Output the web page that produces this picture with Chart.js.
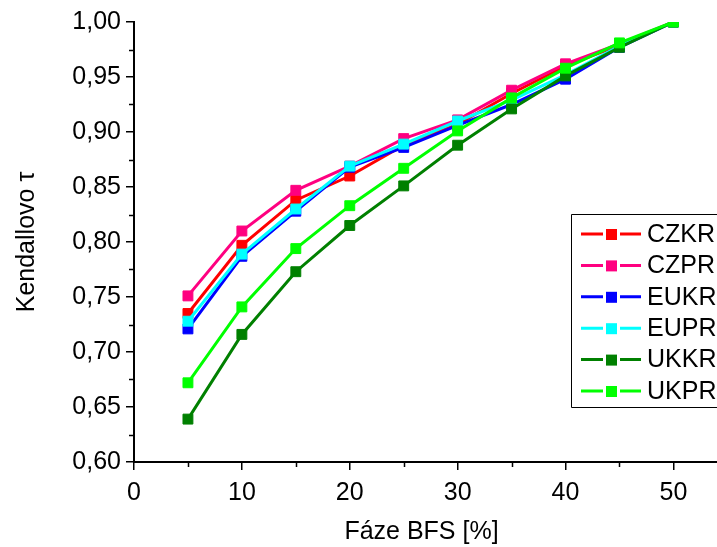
<html>
<head>
<meta charset="utf-8">
<script src="https://cdn.jsdelivr.net/npm/chart.js@4.4.1/dist/chart.umd.min.js"></script>
<style>
body { margin: 0; background: #fff; }
</style>
</head>
<body>
<canvas id="kendall" width="717" height="547"></canvas>

<script>
// faze BFS v procentech
var faze = [5, 10, 15, 20, 25, 30, 35, 40, 45, 50];

var czkr = [0.735, 0.797, 0.838, 0.860, 0.888, 0.907, 0.935, 0.960, 0.979, 1.000];
var czpr = [0.751, 0.810, 0.847, 0.869, 0.894, 0.911, 0.938, 0.962, 0.980, 1.000];
var eukr = [0.721, 0.787, 0.828, 0.868, 0.886, 0.906, 0.925, 0.948, 0.977, 1.000];
var eupr = [0.728, 0.789, 0.830, 0.869, 0.889, 0.910, 0.929, 0.952, 0.978, 1.000];
var ukkr = [0.639, 0.716, 0.773, 0.815, 0.851, 0.888, 0.921, 0.951, 0.977, 1.000];
var ukpr = [0.672, 0.741, 0.794, 0.833, 0.867, 0.901, 0.931, 0.958, 0.981, 1.000];

var names = ["CZKR", "CZPR", "EUKR", "EUPR", "UKKR", "UKPR"];
var series = [czkr, czpr, eukr, eupr, ukkr, ukpr];
var colors = ["#ff0000", "#ff0080", "#0000ff", "#00ffff", "#008000", "#00ff00"];

var xMinor = [5, 15, 25, 35, 45];
var yMinor = [0.625, 0.675, 0.725, 0.775, 0.825, 0.875, 0.925, 0.975];

var font = "'Liberation Sans', Arial, sans-serif";

function toPoints(vals) {
	return vals.map(function(v, i) { return {x: faze[i], y: v}; });
}

var datasets = series.map(function(vals, i) {
	return {
		label: names[i],
		data: toPoints(vals),
		borderColor: colors[i],
		backgroundColor: colors[i],
		borderWidth: 3,
		pointStyle: "rect",
		pointRadius: 7,
		pointBorderWidth: 1,
		pointHoverRadius: 7,
		tension: 0,
		order: names.length - i
	};
});

// vedlejsi znacky na osach + osa x az k okraji
var minorTicks = {
	id: "minorTicks",
	afterDraw: function(chart) {
		var ctx = chart.ctx;
		var xs = chart.scales.x, ys = chart.scales.y;
		var a = chart.chartArea;
		ctx.save();
		ctx.strokeStyle = "#000";
		ctx.lineWidth = 1.5;
		ctx.beginPath();
		xMinor.forEach(function(v) {
			var px = Math.round(xs.getPixelForValue(v)) + 0.5;
			ctx.moveTo(px, a.bottom);
			ctx.lineTo(px, a.bottom + 5);
		});
		yMinor.forEach(function(v) {
			var py = Math.round(ys.getPixelForValue(v)) + 0.5;
			ctx.moveTo(a.left, py);
			ctx.lineTo(a.left - 5, py);
		});
		ctx.stroke();
		ctx.lineWidth = 2;
		ctx.beginPath();
		ctx.moveTo(a.right - 3, Math.round(a.bottom));
		ctx.lineTo(chart.width, Math.round(a.bottom));
		ctx.stroke();
		ctx.restore();
	}
};

// legenda v ramecku vpravo
var boxLegend = {
	id: "boxLegend",
	afterDraw: function(chart) {
		var ctx = chart.ctx;
		var left = 571, top = 214, bottom = 407;
		ctx.save();
		ctx.fillStyle = "#fff";
		ctx.fillRect(left, top, chart.width - left + 10, bottom - top);
		ctx.strokeStyle = "#000";
		ctx.lineWidth = 1;
		ctx.beginPath();
		ctx.moveTo(chart.width + 5, top + 0.5);
		ctx.lineTo(left + 0.5, top + 0.5);
		ctx.lineTo(left + 0.5, bottom + 0.5);
		ctx.lineTo(chart.width + 5, bottom + 0.5);
		ctx.stroke();
		chart.data.datasets.forEach(function(ds, i) {
			var y = 234 + i * 31.4;
			ctx.strokeStyle = ds.borderColor;
			ctx.lineWidth = 3;
			ctx.beginPath();
			ctx.moveTo(581, y); ctx.lineTo(603, y);
			ctx.moveTo(620, y); ctx.lineTo(641, y);
			ctx.stroke();
			ctx.fillStyle = ds.backgroundColor;
			ctx.fillRect(606, y - 5, 11, 11);
			ctx.fillStyle = "#000";
			ctx.font = "25px " + font;
			ctx.textBaseline = "middle";
			ctx.textAlign = "left";
			ctx.fillText(ds.label, 647, y + 1);
		});
		ctx.restore();
	}
};

new Chart(document.getElementById("kendall"), {
	type: "line",
	data: { datasets: datasets },
	options: {
		responsive: false,
		animation: false,
		events: [],
		layout: { padding: { top: 22, right: 0, left: 0, bottom: 0 } },
		plugins: {
			legend: { display: false },
			tooltip: { enabled: false }
		},
		scales: {
			x: {
				type: "linear",
				min: 0,
				max: 53.3,
				border: { display: true, color: "#000", width: 2 },
				grid: { drawOnChartArea: false, drawTicks: true, tickLength: 8, color: "#000", lineWidth: 1.5 },
				ticks: {
					stepSize: 10,
					includeBounds: false,
					maxRotation: 0,
					padding: 8,
					color: "#000",
					font: { family: font, size: 25 }
				},
				title: {
					display: true,
					text: "Fáze BFS [%]",
					color: "#000",
					font: { family: font, size: 25 },
					padding: { top: 6, bottom: 0 }
				},
				afterFit: function(scale) { scale.height = 85; }
			},
			y: {
				min: 0.6,
				max: 1.0,
				border: { display: true, color: "#000", width: 2 },
				grid: { drawOnChartArea: false, drawTicks: true, tickLength: 8, color: "#000", lineWidth: 1.5 },
				ticks: {
					stepSize: 0.05,
					padding: 5,
					color: "#000",
					font: { family: font, size: 25 },
					callback: function(v) { return v.toFixed(2).replace(".", ","); }
				},
				title: {
					display: true,
					text: "Kendallovo τ",
					color: "#000",
					font: { family: font, size: 25 },
					padding: { top: 12, bottom: 4 }
				},
				afterFit: function(scale) { scale.width = 134; }
			}
		}
	},
	plugins: [minorTicks, boxLegend]
});
</script>
</body>
</html>
